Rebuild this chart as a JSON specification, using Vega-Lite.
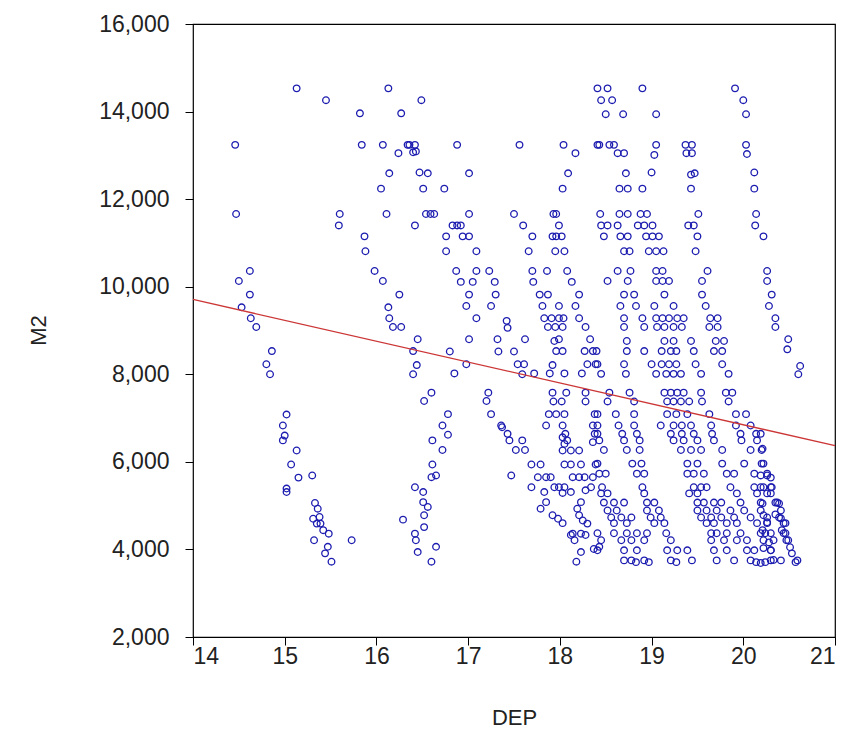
{
  "$schema": "https://vega.github.io/schema/vega-lite/v6.json",
  "width": 642,
  "height": 613,
  "autosize": {"type": "none"},
  "padding": {"left": 193, "top": 24, "right": 20, "bottom": 118},
  "background": "white",
  "config": {
    "font": "Liberation Sans",
    "view": {"stroke": "black", "strokeWidth": 1.2},
    "axis": {
      "grid": false,
      "domain": false,
      "tickColor": "black",
      "tickSize": 8,
      "labelColor": "#222222",
      "labelFontSize": 23,
      "titleColor": "#222222",
      "titleFontSize": 22,
      "titleFontWeight": "normal"
    }
  },
  "layer": [
    {
      "data": {
        "values": [
          {"DEP":15.13,"M2":14530},{"DEP":15.45,"M2":14260},{"DEP":16.13,"M2":14530},{"DEP":15.82,"M2":13960},{"DEP":16.27,"M2":13960},
          {"DEP":14.46,"M2":13240},{"DEP":15.84,"M2":13240},{"DEP":16.07,"M2":13240},{"DEP":16.24,"M2":13050},{"DEP":16.34,"M2":13240},
          {"DEP":16.14,"M2":12590},{"DEP":16.05,"M2":12240},{"DEP":14.47,"M2":11660},{"DEP":15.60,"M2":11660},{"DEP":15.59,"M2":11400},
          {"DEP":16.11,"M2":11660},{"DEP":15.87,"M2":11150},{"DEP":15.88,"M2":10810},{"DEP":14.62,"M2":10360},{"DEP":14.50,"M2":10130},
          {"DEP":14.62,"M2":9820},{"DEP":14.53,"M2":9530},{"DEP":14.63,"M2":9280},{"DEP":14.69,"M2":9080},{"DEP":14.86,"M2":8530},
          {"DEP":14.80,"M2":8230},{"DEP":14.84,"M2":8000},{"DEP":15.98,"M2":10360},{"DEP":16.07,"M2":10130},{"DEP":16.25,"M2":9820},
          {"DEP":16.13,"M2":9530},{"DEP":16.14,"M2":9280},{"DEP":16.18,"M2":9080},{"DEP":16.27,"M2":9080},
          {"DEP":15.02,"M2":7080},{"DEP":14.98,"M2":6830},{"DEP":15.00,"M2":6600},{"DEP":14.98,"M2":6490},{"DEP":15.13,"M2":6260},
          {"DEP":15.07,"M2":5940},{"DEP":15.15,"M2":5640},{"DEP":15.30,"M2":5690},{"DEP":15.02,"M2":5390},{"DEP":15.02,"M2":5310},
          {"DEP":15.33,"M2":5060},{"DEP":15.36,"M2":4930},{"DEP":15.31,"M2":4700},{"DEP":15.38,"M2":4740},{"DEP":15.39,"M2":4590},
          {"DEP":15.35,"M2":4590},{"DEP":15.48,"M2":4360},{"DEP":15.42,"M2":4440},{"DEP":15.32,"M2":4210},{"DEP":15.73,"M2":4210},
          {"DEP":15.47,"M2":4060},{"DEP":15.44,"M2":3910},{"DEP":15.51,"M2":3720},{"DEP":16.29,"M2":4680},
          {"DEP":16.49,"M2":14260},{"DEP":16.36,"M2":13240},{"DEP":16.42,"M2":13240},{"DEP":16.40,"M2":13070},{"DEP":16.43,"M2":13090},
          {"DEP":16.88,"M2":13240},{"DEP":17.56,"M2":13240},{"DEP":18.04,"M2":13240},{"DEP":18.17,"M2":13050},{"DEP":18.41,"M2":13240},
          {"DEP":16.47,"M2":12610},{"DEP":16.56,"M2":12590},{"DEP":17.01,"M2":12590},{"DEP":18.09,"M2":12590},{"DEP":16.51,"M2":12240},
          {"DEP":16.74,"M2":12240},{"DEP":18.03,"M2":12240},{"DEP":16.54,"M2":11660},{"DEP":16.59,"M2":11660},{"DEP":16.63,"M2":11660},
          {"DEP":17.01,"M2":11660},{"DEP":17.50,"M2":11660},{"DEP":17.93,"M2":11660},{"DEP":17.96,"M2":11660},{"DEP":16.42,"M2":11400},
          {"DEP":16.83,"M2":11400},{"DEP":16.88,"M2":11400},{"DEP":16.92,"M2":11400},{"DEP":17.60,"M2":11400},{"DEP":17.99,"M2":11400},
          {"DEP":16.76,"M2":11150},{"DEP":16.94,"M2":11150},{"DEP":17.01,"M2":11150},{"DEP":17.70,"M2":11150},{"DEP":17.92,"M2":11150},
          {"DEP":17.96,"M2":11150},{"DEP":18.02,"M2":11150},{"DEP":16.76,"M2":10810},{"DEP":17.09,"M2":10810},{"DEP":17.66,"M2":10810},
          {"DEP":17.95,"M2":10810},{"DEP":18.05,"M2":10810},{"DEP":16.87,"M2":10360},{"DEP":17.09,"M2":10360},{"DEP":17.23,"M2":10360},
          {"DEP":17.70,"M2":10360},{"DEP":17.86,"M2":10360},{"DEP":18.08,"M2":10360},{"DEP":16.92,"M2":10110},{"DEP":17.05,"M2":10110},
          {"DEP":17.29,"M2":10110},{"DEP":17.71,"M2":10110},{"DEP":18.13,"M2":10110},{"DEP":17.01,"M2":9820},{"DEP":17.30,"M2":9820},
          {"DEP":17.78,"M2":9820},{"DEP":17.87,"M2":9820},{"DEP":18.21,"M2":9820},{"DEP":16.98,"M2":9560},{"DEP":17.25,"M2":9560},
          {"DEP":17.81,"M2":9560},{"DEP":17.99,"M2":9560},{"DEP":18.17,"M2":9560},{"DEP":17.09,"M2":9280},{"DEP":17.42,"M2":9220},
          {"DEP":17.43,"M2":9060},{"DEP":17.83,"M2":9280},{"DEP":17.91,"M2":9280},{"DEP":17.99,"M2":9280},{"DEP":18.04,"M2":9280},
          {"DEP":17.87,"M2":9080},{"DEP":17.95,"M2":9080},{"DEP":18.03,"M2":9080},{"DEP":18.21,"M2":9280},{"DEP":18.28,"M2":9080},
          {"DEP":16.45,"M2":8800},{"DEP":17.01,"M2":8800},{"DEP":17.32,"M2":8800},{"DEP":17.62,"M2":8800},{"DEP":17.99,"M2":8800},
          {"DEP":18.33,"M2":8800},{"DEP":17.94,"M2":8760},
          {"DEP":16.40,"M2":8530},{"DEP":16.80,"M2":8520},{"DEP":17.33,"M2":8520},{"DEP":17.50,"M2":8520},{"DEP":17.96,"M2":8530},
          {"DEP":18.03,"M2":8530},{"DEP":18.27,"M2":8530},{"DEP":18.36,"M2":8530},{"DEP":16.44,"M2":8210},{"DEP":16.40,"M2":8000},
          {"DEP":16.85,"M2":8020},{"DEP":16.98,"M2":8230},{"DEP":17.54,"M2":8230},{"DEP":17.61,"M2":8230},{"DEP":17.59,"M2":8000},
          {"DEP":17.72,"M2":8020},{"DEP":17.92,"M2":8210},{"DEP":17.89,"M2":8020},{"DEP":18.05,"M2":8020},{"DEP":18.30,"M2":8230},
          {"DEP":18.24,"M2":8020},{"DEP":18.39,"M2":8230},{"DEP":16.60,"M2":7580},{"DEP":16.52,"M2":7390},{"DEP":17.22,"M2":7580},
          {"DEP":17.20,"M2":7390},{"DEP":17.92,"M2":7580},{"DEP":18.07,"M2":7580},{"DEP":17.93,"M2":7380},{"DEP":18.02,"M2":7380},
          {"DEP":18.28,"M2":7580},{"DEP":18.28,"M2":7380},{"DEP":16.78,"M2":7090},{"DEP":16.72,"M2":6830},{"DEP":16.78,"M2":6620},
          {"DEP":17.25,"M2":7090},{"DEP":17.36,"M2":6830},{"DEP":17.37,"M2":6790},{"DEP":17.43,"M2":6640},{"DEP":17.45,"M2":6490},
          {"DEP":17.88,"M2":7090},{"DEP":17.96,"M2":7090},{"DEP":18.05,"M2":7090},{"DEP":17.85,"M2":6830},{"DEP":18.03,"M2":6830},
          {"DEP":18.03,"M2":6560},{"DEP":18.08,"M2":6490},{"DEP":18.05,"M2":6410},{"DEP":18.06,"M2":6640},{"DEP":18.38,"M2":7090},
          {"DEP":18.36,"M2":6830},{"DEP":18.38,"M2":6640},{"DEP":18.36,"M2":6450},{"DEP":16.61,"M2":6490},{"DEP":16.72,"M2":6270},
          {"DEP":17.59,"M2":6490},{"DEP":17.52,"M2":6270},{"DEP":17.62,"M2":6270},{"DEP":18.03,"M2":6260},{"DEP":18.12,"M2":6260},
          {"DEP":18.21,"M2":6260},{"DEP":16.61,"M2":5940},{"DEP":16.60,"M2":5650},{"DEP":16.65,"M2":5690},{"DEP":17.47,"M2":5690},
          {"DEP":17.69,"M2":5940},{"DEP":17.79,"M2":5940},{"DEP":18.05,"M2":5940},{"DEP":18.12,"M2":5940},{"DEP":18.23,"M2":5940},
          {"DEP":18.39,"M2":5940},{"DEP":17.76,"M2":5650},{"DEP":17.85,"M2":5650},{"DEP":17.90,"M2":5650},{"DEP":18.14,"M2":5650},
          {"DEP":18.21,"M2":5650},{"DEP":18.27,"M2":5650},{"DEP":18.36,"M2":5650},{"DEP":16.42,"M2":5420},{"DEP":16.51,"M2":5310},
          {"DEP":17.69,"M2":5420},{"DEP":17.83,"M2":5310},{"DEP":17.94,"M2":5420},{"DEP":17.99,"M2":5420},{"DEP":18.05,"M2":5420},
          {"DEP":18.03,"M2":5290},{"DEP":18.12,"M2":5310},{"DEP":18.28,"M2":5350},{"DEP":18.34,"M2":5420},{"DEP":16.51,"M2":5080},
          {"DEP":16.56,"M2":4970},{"DEP":16.52,"M2":4780},{"DEP":17.85,"M2":5080},{"DEP":17.79,"M2":4930},{"DEP":18.23,"M2":5080},
          {"DEP":18.19,"M2":4930},{"DEP":17.92,"M2":4780},{"DEP":17.98,"M2":4700},{"DEP":18.03,"M2":4600},{"DEP":18.21,"M2":4780},
          {"DEP":18.25,"M2":4660},{"DEP":18.30,"M2":4590},{"DEP":16.52,"M2":4510},{"DEP":16.42,"M2":4360},{"DEP":16.43,"M2":4210},
          {"DEP":18.14,"M2":4360},{"DEP":18.23,"M2":4360},{"DEP":18.16,"M2":4210},{"DEP":16.65,"M2":4060},{"DEP":16.45,"M2":3940},
          {"DEP":16.60,"M2":3720},{"DEP":18.37,"M2":4010},{"DEP":18.23,"M2":3940},{"DEP":18.18,"M2":3720},{"DEP":18.12,"M2":4330},
          {"DEP":18.28,"M2":4330},{"DEP":18.43,"M2":4060},
          {"DEP":18.41,"M2":14530},{"DEP":18.52,"M2":14530},{"DEP":18.45,"M2":14260},{"DEP":18.57,"M2":14260},{"DEP":18.90,"M2":14530},
          {"DEP":18.50,"M2":13940},{"DEP":18.69,"M2":13940},{"DEP":19.05,"M2":13940},{"DEP":19.91,"M2":14530},{"DEP":20.00,"M2":14260},
          {"DEP":20.03,"M2":13940},{"DEP":18.43,"M2":13240},{"DEP":18.54,"M2":13240},{"DEP":18.59,"M2":13240},{"DEP":18.63,"M2":13050},
          {"DEP":18.70,"M2":13050},{"DEP":19.05,"M2":13240},{"DEP":19.03,"M2":13010},{"DEP":19.37,"M2":13240},{"DEP":19.44,"M2":13240},
          {"DEP":19.38,"M2":13050},{"DEP":19.44,"M2":13050},{"DEP":20.03,"M2":13240},{"DEP":20.04,"M2":13030},{"DEP":18.72,"M2":12590},
          {"DEP":19.00,"M2":12610},{"DEP":19.47,"M2":12590},{"DEP":19.43,"M2":12560},{"DEP":20.12,"M2":12610},{"DEP":18.65,"M2":12240},
          {"DEP":18.74,"M2":12240},{"DEP":18.90,"M2":12240},{"DEP":19.43,"M2":12240},{"DEP":20.12,"M2":12240},{"DEP":18.44,"M2":11660},
          {"DEP":18.65,"M2":11660},{"DEP":18.74,"M2":11660},{"DEP":18.88,"M2":11660},{"DEP":18.95,"M2":11660},{"DEP":19.51,"M2":11660},
          {"DEP":20.14,"M2":11660},{"DEP":18.45,"M2":11400},{"DEP":18.52,"M2":11400},{"DEP":18.63,"M2":11400},{"DEP":18.85,"M2":11400},
          {"DEP":18.92,"M2":11400},{"DEP":19.01,"M2":11400},{"DEP":19.40,"M2":11400},{"DEP":19.46,"M2":11400},{"DEP":20.13,"M2":11400},
          {"DEP":18.48,"M2":11150},{"DEP":18.66,"M2":11150},{"DEP":18.74,"M2":11150},{"DEP":18.94,"M2":11150},{"DEP":19.01,"M2":11150},
          {"DEP":19.08,"M2":11150},{"DEP":19.50,"M2":11150},{"DEP":20.22,"M2":11150},{"DEP":18.70,"M2":10810},{"DEP":18.76,"M2":10810},
          {"DEP":18.97,"M2":10810},{"DEP":19.05,"M2":10810},{"DEP":19.13,"M2":10810},{"DEP":19.48,"M2":10810},{"DEP":18.63,"M2":10360},
          {"DEP":18.77,"M2":10360},{"DEP":19.05,"M2":10360},{"DEP":19.12,"M2":10360},{"DEP":19.61,"M2":10360},{"DEP":20.26,"M2":10360},
          {"DEP":18.52,"M2":10130},{"DEP":18.74,"M2":10130},{"DEP":19.05,"M2":10130},{"DEP":19.12,"M2":10130},{"DEP":19.19,"M2":10130},
          {"DEP":19.55,"M2":10130},{"DEP":20.26,"M2":10130},{"DEP":18.70,"M2":9820},{"DEP":18.81,"M2":9820},{"DEP":19.14,"M2":9820},
          {"DEP":19.55,"M2":9820},{"DEP":20.31,"M2":9820},{"DEP":18.66,"M2":9560},{"DEP":18.83,"M2":9560},{"DEP":19.03,"M2":9560},
          {"DEP":19.24,"M2":9560},{"DEP":19.59,"M2":9560},{"DEP":20.28,"M2":9560},{"DEP":18.70,"M2":9280},{"DEP":18.90,"M2":9280},
          {"DEP":19.05,"M2":9280},{"DEP":19.12,"M2":9280},{"DEP":19.19,"M2":9280},{"DEP":19.28,"M2":9280},{"DEP":19.35,"M2":9280},
          {"DEP":19.64,"M2":9280},{"DEP":19.72,"M2":9280},{"DEP":20.35,"M2":9280},{"DEP":18.70,"M2":9080},{"DEP":18.92,"M2":9080},
          {"DEP":19.06,"M2":9080},{"DEP":19.14,"M2":9080},{"DEP":19.24,"M2":9080},{"DEP":19.33,"M2":9080},{"DEP":19.63,"M2":9080},
          {"DEP":19.72,"M2":9080},{"DEP":20.35,"M2":9080},{"DEP":20.49,"M2":8800},{"DEP":20.48,"M2":8570},{"DEP":20.62,"M2":8190},
          {"DEP":20.60,"M2":8000},
          {"DEP":18.73,"M2":8760},{"DEP":19.14,"M2":8760},{"DEP":19.24,"M2":8760},{"DEP":19.43,"M2":8760},{"DEP":19.70,"M2":8760},{"DEP":19.79,"M2":8760},
          {"DEP":18.40,"M2":8530},{"DEP":18.73,"M2":8530},{"DEP":18.92,"M2":8530},{"DEP":19.11,"M2":8530},{"DEP":19.21,"M2":8530},{"DEP":19.27,"M2":8530},{"DEP":19.46,"M2":8530},{"DEP":19.68,"M2":8530},{"DEP":19.77,"M2":8530},
          {"DEP":18.41,"M2":8230},{"DEP":18.70,"M2":8230},{"DEP":19.00,"M2":8230},{"DEP":19.11,"M2":8230},{"DEP":19.19,"M2":8230},{"DEP":19.27,"M2":8230},{"DEP":19.48,"M2":8230},{"DEP":19.77,"M2":8230},
          {"DEP":18.45,"M2":8010},{"DEP":18.72,"M2":8010},{"DEP":19.05,"M2":8010},{"DEP":19.16,"M2":8010},{"DEP":19.24,"M2":8010},{"DEP":19.32,"M2":8010},{"DEP":19.54,"M2":8010},{"DEP":19.84,"M2":8010},
          {"DEP":18.54,"M2":7580},{"DEP":18.76,"M2":7580},{"DEP":19.14,"M2":7580},{"DEP":19.21,"M2":7580},{"DEP":19.28,"M2":7580},{"DEP":19.35,"M2":7580},{"DEP":19.54,"M2":7580},{"DEP":19.81,"M2":7580},{"DEP":19.88,"M2":7580},
          {"DEP":18.52,"M2":7380},{"DEP":18.81,"M2":7380},{"DEP":19.17,"M2":7380},{"DEP":19.24,"M2":7380},{"DEP":19.32,"M2":7380},{"DEP":19.41,"M2":7380},{"DEP":19.55,"M2":7380},{"DEP":19.84,"M2":7380},
          {"DEP":18.41,"M2":7090},{"DEP":18.61,"M2":7090},{"DEP":18.81,"M2":7090},{"DEP":19.17,"M2":7090},{"DEP":19.27,"M2":7090},{"DEP":19.39,"M2":7090},{"DEP":19.63,"M2":7090},{"DEP":19.92,"M2":7090},{"DEP":20.03,"M2":7090},
          {"DEP":18.41,"M2":6830},{"DEP":18.64,"M2":6830},{"DEP":18.81,"M2":6830},{"DEP":19.10,"M2":6830},{"DEP":19.24,"M2":6830},{"DEP":19.33,"M2":6830},{"DEP":19.43,"M2":6830},{"DEP":19.65,"M2":6830},{"DEP":19.92,"M2":6830},{"DEP":20.08,"M2":6830},
          {"DEP":18.41,"M2":6640},{"DEP":18.68,"M2":6640},{"DEP":18.84,"M2":6640},{"DEP":19.21,"M2":6640},{"DEP":19.33,"M2":6640},{"DEP":19.46,"M2":6640},{"DEP":19.66,"M2":6640},{"DEP":19.97,"M2":6640},{"DEP":20.14,"M2":6640},
          {"DEP":18.43,"M2":6490},{"DEP":18.70,"M2":6490},{"DEP":18.87,"M2":6490},{"DEP":19.24,"M2":6490},{"DEP":19.35,"M2":6490},{"DEP":19.50,"M2":6490},{"DEP":19.68,"M2":6490},{"DEP":19.98,"M2":6490},{"DEP":20.15,"M2":6490},
          {"DEP":18.48,"M2":6270},{"DEP":18.73,"M2":6270},{"DEP":18.87,"M2":6270},{"DEP":19.32,"M2":6270},{"DEP":19.43,"M2":6270},{"DEP":19.54,"M2":6270},{"DEP":19.77,"M2":6270},{"DEP":20.08,"M2":6270},{"DEP":20.20,"M2":6270},
          {"DEP":18.41,"M2":5960},{"DEP":18.79,"M2":5960},{"DEP":18.89,"M2":5960},{"DEP":19.39,"M2":5960},{"DEP":19.50,"M2":5960},{"DEP":19.77,"M2":5960},{"DEP":20.01,"M2":5960},{"DEP":20.20,"M2":5960},
          {"DEP":18.43,"M2":5730},{"DEP":18.50,"M2":5730},{"DEP":18.84,"M2":5730},{"DEP":18.92,"M2":5730},{"DEP":19.39,"M2":5730},{"DEP":19.46,"M2":5730},{"DEP":19.57,"M2":5730},{"DEP":19.82,"M2":5730},{"DEP":19.90,"M2":5730},{"DEP":20.12,"M2":5730},{"DEP":20.26,"M2":5730},
          {"DEP":18.46,"M2":5420},{"DEP":18.90,"M2":5420},{"DEP":19.46,"M2":5420},{"DEP":19.54,"M2":5420},{"DEP":19.60,"M2":5420},{"DEP":19.86,"M2":5420},{"DEP":20.12,"M2":5420},{"DEP":20.19,"M2":5420},{"DEP":20.30,"M2":5420},
          {"DEP":18.45,"M2":5280},{"DEP":18.52,"M2":5280},{"DEP":18.92,"M2":5280},{"DEP":19.41,"M2":5280},{"DEP":19.50,"M2":5280},{"DEP":19.93,"M2":5280},{"DEP":20.15,"M2":5280},{"DEP":20.26,"M2":5280},
          {"DEP":18.48,"M2":5070},{"DEP":18.59,"M2":5070},{"DEP":18.70,"M2":5070},{"DEP":18.95,"M2":5070},{"DEP":19.03,"M2":5070},{"DEP":19.50,"M2":5070},{"DEP":19.57,"M2":5070},{"DEP":19.68,"M2":5070},{"DEP":19.76,"M2":5070},{"DEP":19.97,"M2":5070},{"DEP":20.19,"M2":5070},{"DEP":20.37,"M2":5070},
          {"DEP":18.52,"M2":4890},{"DEP":18.62,"M2":4890},{"DEP":18.95,"M2":4890},{"DEP":19.08,"M2":4890},{"DEP":19.50,"M2":4890},{"DEP":19.60,"M2":4890},{"DEP":19.71,"M2":4890},{"DEP":19.86,"M2":4890},{"DEP":20.01,"M2":4890},{"DEP":20.19,"M2":4890},{"DEP":20.41,"M2":4890},
          {"DEP":18.56,"M2":4730},{"DEP":18.67,"M2":4730},{"DEP":18.78,"M2":4730},{"DEP":18.99,"M2":4730},{"DEP":19.10,"M2":4730},{"DEP":19.54,"M2":4730},{"DEP":19.65,"M2":4730},{"DEP":19.76,"M2":4730},{"DEP":19.90,"M2":4730},{"DEP":20.08,"M2":4730},{"DEP":20.26,"M2":4730},{"DEP":20.39,"M2":4730},
          {"DEP":18.59,"M2":4600},{"DEP":18.73,"M2":4600},{"DEP":19.03,"M2":4600},{"DEP":19.14,"M2":4600},{"DEP":19.60,"M2":4600},{"DEP":19.68,"M2":4600},{"DEP":19.82,"M2":4600},{"DEP":19.93,"M2":4600},{"DEP":20.15,"M2":4600},{"DEP":20.26,"M2":4600},{"DEP":20.46,"M2":4600},
          {"DEP":18.41,"M2":4370},{"DEP":18.59,"M2":4370},{"DEP":18.73,"M2":4370},{"DEP":18.84,"M2":4370},{"DEP":18.95,"M2":4370},{"DEP":19.16,"M2":4370},{"DEP":19.65,"M2":4370},{"DEP":19.71,"M2":4370},{"DEP":19.82,"M2":4370},{"DEP":19.97,"M2":4370},{"DEP":20.19,"M2":4370},{"DEP":20.30,"M2":4370},{"DEP":20.44,"M2":4370},
          {"DEP":18.45,"M2":4210},{"DEP":18.67,"M2":4210},{"DEP":18.78,"M2":4210},{"DEP":18.92,"M2":4210},{"DEP":19.21,"M2":4210},{"DEP":19.65,"M2":4210},{"DEP":19.79,"M2":4210},{"DEP":19.93,"M2":4210},{"DEP":20.04,"M2":4210},{"DEP":20.22,"M2":4210},{"DEP":20.33,"M2":4210},{"DEP":20.47,"M2":4210},
          {"DEP":18.41,"M2":3980},{"DEP":18.70,"M2":3980},{"DEP":18.84,"M2":3980},{"DEP":19.17,"M2":3980},{"DEP":19.28,"M2":3980},{"DEP":19.39,"M2":3980},{"DEP":19.68,"M2":3980},{"DEP":19.82,"M2":3980},{"DEP":20.04,"M2":3980},{"DEP":20.12,"M2":3980},{"DEP":20.30,"M2":3980},
          {"DEP":18.70,"M2":3750},{"DEP":18.78,"M2":3750},{"DEP":18.92,"M2":3750},{"DEP":19.21,"M2":3750},{"DEP":19.44,"M2":3750},{"DEP":19.71,"M2":3750},{"DEP":19.90,"M2":3750},{"DEP":20.08,"M2":3750},{"DEP":20.30,"M2":3750},{"DEP":20.41,"M2":3750},
          {"DEP":18.83,"M2":3710},{"DEP":18.97,"M2":3710},{"DEP":19.27,"M2":3710},{"DEP":20.14,"M2":3710},{"DEP":20.57,"M2":3710},
          {"DEP":20.19,"M2":6640},{"DEP":20.21,"M2":6300},{"DEP":20.22,"M2":5960},{"DEP":20.19,"M2":5690},{"DEP":20.26,"M2":5690},{"DEP":20.30,"M2":5640},
          {"DEP":20.22,"M2":5420},{"DEP":20.31,"M2":5420},{"DEP":20.30,"M2":5280},{"DEP":20.21,"M2":5050},{"DEP":20.22,"M2":4780},{"DEP":20.26,"M2":4620},
          {"DEP":20.21,"M2":4440},{"DEP":20.24,"M2":4370},{"DEP":20.28,"M2":4160},{"DEP":20.22,"M2":4030},{"DEP":20.30,"M2":3980},{"DEP":20.33,"M2":3760},
          {"DEP":20.24,"M2":3710},{"DEP":20.19,"M2":3690},{"DEP":20.35,"M2":5070},{"DEP":20.39,"M2":5050},{"DEP":20.35,"M2":4800},{"DEP":20.41,"M2":4710},
          {"DEP":20.44,"M2":4600},{"DEP":20.42,"M2":4440},{"DEP":20.46,"M2":4370},{"DEP":20.49,"M2":4210},{"DEP":20.51,"M2":4050},{"DEP":20.53,"M2":3910},
          {"DEP":20.59,"M2":3750}
        ]
      },
      "mark": {"type": "point", "shape": "circle", "filled": false, "size": 44, "strokeWidth": 1.3, "color": "#1c1cb0", "opacity": 1},
      "encoding": {
        "x": {
          "field": "DEP",
          "type": "quantitative",
          "title": "DEP",
          "scale": {"domain": [14, 21], "nice": false, "zero": false},
          "axis": {"values": [14, 15, 16, 17, 18, 19, 20, 21], "format": "d", "labelPadding": 0, "titleX": 321, "titleY": 80, "titleBaseline": "middle"}
        },
        "y": {
          "field": "M2",
          "type": "quantitative",
          "title": "M2",
          "scale": {"domain": [2000, 16000], "nice": false, "zero": false},
          "axis": {"values": [2000, 4000, 6000, 8000, 10000, 12000, 14000, 16000], "format": ",d", "labelPadding": 16, "titleX": -155, "titleY": 306, "titleBaseline": "middle"}
        }
      }
    },
    {
      "data": {"values": [{"DEP": 14, "M2": 9710}, {"DEP": 21, "M2": 6370}]},
      "mark": {"type": "line", "color": "#cc3636", "strokeWidth": 1.3},
      "encoding": {
        "x": {"field": "DEP", "type": "quantitative"},
        "y": {"field": "M2", "type": "quantitative"}
      }
    }
  ]
}
